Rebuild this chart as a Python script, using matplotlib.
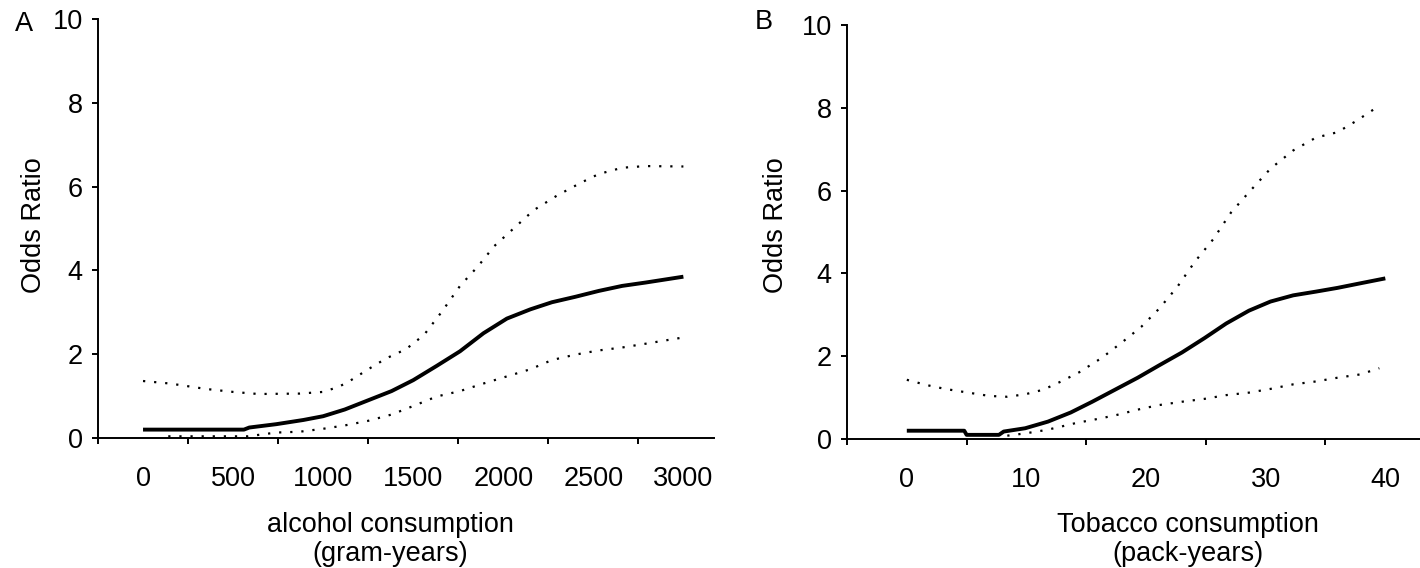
import numpy as np
import matplotlib
matplotlib.use("Agg")
import matplotlib.pyplot as plt
from matplotlib.ticker import FixedLocator, NullFormatter, FixedFormatter

plt.rcParams['font.family'] = ['Liberation Sans', 'DejaVu Sans']

# Panel A - alcohol (gram-years)
alc_x = [0, 560, 590, 740, 890, 1000, 1120, 1250, 1380, 1500, 1630, 1760, 1890,
         2020, 2150, 2270, 2400, 2530, 2660, 2790, 3000]
alc_or = [0.2, 0.2, 0.25, 0.33, 0.43, 0.52, 0.68, 0.9, 1.12, 1.38, 1.72, 2.07, 2.5,
          2.85, 3.07, 3.24, 3.37, 3.51, 3.63, 3.71, 3.85]
alc_up_x = [0, 150, 350, 500, 640, 870, 1000, 1085, 1140, 1250, 1350, 1460, 1560,
            1660, 1760, 1860, 1950, 2070, 2170, 2300, 2430, 2530, 2660, 2790, 3000]
alc_up = [1.36, 1.3, 1.17, 1.1, 1.05, 1.06, 1.1, 1.22, 1.34, 1.64, 1.9, 2.12, 2.46,
          3.02, 3.63, 4.1, 4.58, 5.05, 5.44, 5.79, 6.09, 6.3, 6.45, 6.49, 6.48]
alc_lo_x = [140, 580, 740, 870, 1000, 1120, 1250, 1380, 1510, 1630, 1760, 1890,
            2020, 2150, 2270, 2400, 2530, 2660, 2790, 3000]
alc_lo = [0.04, 0.04, 0.13, 0.15, 0.22, 0.3, 0.41, 0.56, 0.78, 0.99, 1.12, 1.3,
          1.47, 1.64, 1.86, 1.99, 2.09, 2.16, 2.25, 2.4]
alc_labels = [0, 500, 1000, 1500, 2000, 2500, 3000]

# Panel B - tobacco (pack-years)
tob_x = [0, 4.8, 5.0, 7.7, 8.1, 9.9, 11.8, 13.7, 15.5, 17.4, 19.3, 21.1, 23.0,
         24.9, 26.7, 28.6, 30.4, 32.3, 34.2, 36.0, 37.9, 40.0]
tob_or = [0.2, 0.2, 0.1, 0.1, 0.18, 0.26, 0.42, 0.64, 0.9, 1.19, 1.48, 1.78, 2.09,
          2.44, 2.79, 3.1, 3.32, 3.47, 3.56, 3.65, 3.76, 3.88]
tob_up_x = [0, 1.7, 3.2, 4.7, 6.9, 8.4, 9.9, 11.4, 12.9, 14.4, 16.3, 18.1, 19.6,
            21.1, 22.6, 24.1, 25.6, 27.1, 28.6, 30.4, 32.3, 34.2, 36.0, 37.5, 39.5]
tob_up = [1.43, 1.3, 1.21, 1.14, 1.04, 1.02, 1.08, 1.19, 1.39, 1.61, 1.96, 2.36, 2.71,
          3.15, 3.67, 4.29, 4.82, 5.47, 5.96, 6.53, 6.97, 7.28, 7.41, 7.67, 8.05]
tob_lo_x = [8.4, 10.0, 11.7, 12.9, 14.2, 15.7, 17.4, 19.6, 21.1, 23.0, 24.9, 26.7,
            28.6, 30.4, 32.3, 34.2, 36.0, 37.9, 39.5]
tob_lo = [0.08, 0.14, 0.22, 0.3, 0.39, 0.47, 0.57, 0.73, 0.82, 0.9, 0.97, 1.06,
          1.12, 1.21, 1.32, 1.39, 1.48, 1.56, 1.71]
tob_labels = [0, 10, 20, 30, 40]

FS = 19.5
W, H = 1420, 568
fig = plt.figure(figsize=(W / 100, H / 100), dpi=100)


def panel(rect, x, y, ux, uy, lx, ly, labels, step, xmax, xlabel, ylab_x, ylab_y, xlab_x):
    ax = fig.add_axes(rect)
    ax.plot(x, y, color='black', lw=2.8, solid_capstyle='butt')
    ax.plot(ux, uy, color='black', lw=1.6, dashes=(1, 4))
    ax.plot(lx, ly, color='black', lw=1.6, dashes=(1, 4))

    ax.set_xlim(labels[0] - step / 2, xmax)
    ax.set_ylim(0, 10)
    for s in ['top', 'right']:
        ax.spines[s].set_visible(False)
    for s in ['left', 'bottom']:
        ax.spines[s].set_linewidth(1.4)

    # category style axis: tick marks between labels
    ax.xaxis.set_major_locator(FixedLocator([v - step / 2 for v in labels]))
    ax.xaxis.set_major_formatter(NullFormatter())
    ax.xaxis.set_minor_locator(FixedLocator(labels))
    ax.xaxis.set_minor_formatter(FixedFormatter([str(v) for v in labels]))
    ax.tick_params(axis='x', which='major', direction='out', length=4, width=1.4)
    ax.tick_params(axis='x', which='minor', length=0, pad=20, labelsize=FS)
    ax.set_yticks([0, 2, 4, 6, 8, 10])
    ax.tick_params(axis='y', direction='out', length=4, width=1.4, pad=7, labelsize=FS)

    ax.set_ylabel('Odds Ratio', fontsize=FS, va='center')
    ax.yaxis.set_label_coords(ylab_x, ylab_y)
    ax.set_xlabel(xlabel, fontsize=FS, va='center', linespacing=1.15)
    ax.xaxis.set_label_coords(xlab_x, -0.242)
    return ax


panel([98 / W, 130 / H, 616 / W, 419 / H], alc_x, alc_or, alc_up_x, alc_up, alc_lo_x, alc_lo,
      alc_labels, 500, 3170, 'alcohol consumption\n(gram-years)', -0.104, 0.507, 0.474)
panel([847 / W, 129 / H, 573 / W, 414 / H], tob_x, tob_or, tob_up_x, tob_up, tob_lo_x, tob_lo,
      tob_labels, 10, 42.9, 'Tobacco consumption\n(pack-years)', -0.124, 0.516, 0.595)

fig.text(24 / W, 1 - 24 / H, 'A', fontsize=FS, ha='center', va='center')
fig.text(764 / W, 1 - 22 / H, 'B', fontsize=FS, ha='center', va='center')

fig.savefig('out.png', dpi=100)
